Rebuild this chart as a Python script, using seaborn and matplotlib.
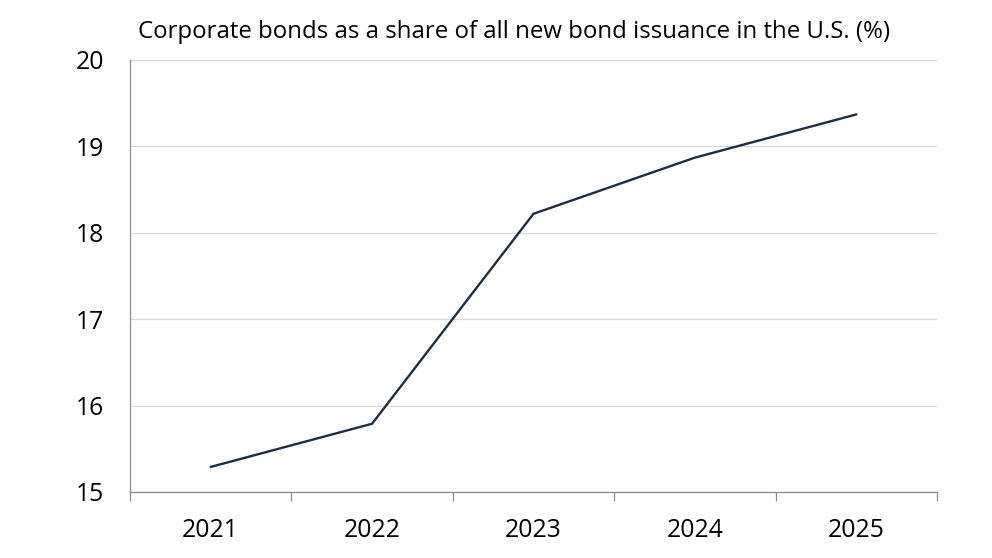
import matplotlib
matplotlib.use("Agg")
import matplotlib.pyplot as plt
import pandas as pd
import seaborn as sns
from matplotlib.ticker import FixedLocator

years = ["2021", "2022", "2023", "2024", "2025"]
share = [15.29, 15.79, 18.22, 18.87, 19.37]
title = "Corporate bonds as a share of all new bond issuance in the U.S. (%)"

df = pd.DataFrame({"Year": years, "Share": share})

sns.set_theme(style="white")
plt.rcParams["font.family"] = ["Open Sans", "DejaVu Sans"]

fig = plt.figure(figsize=(9.92, 5.58), dpi=100)
ax = fig.add_axes([0.131, 0.1183, 0.8136, 0.7742])

sns.lineplot(data=df, x="Year", y="Share", ax=ax, color="#1c2e45", linewidth=1.7, sort=False)

ax.set_xlim(-0.5, 4.5)
ax.set_ylim(15, 20)
ax.set_yticks([15, 16, 17, 18, 19, 20])
ax.yaxis.grid(True, color="#d9d9d9", linewidth=0.9)
ax.set_axisbelow(True)

ax.xaxis.set_minor_locator(FixedLocator([-0.5, 0.5, 1.5, 2.5, 3.5, 4.5]))
ax.tick_params(axis="x", which="major", length=0, pad=18.5, labelsize=17.8, colors="#000000")
ax.tick_params(axis="x", which="minor", length=6.5, width=0.9, color="#8c8c8c", bottom=True, direction="out")
ax.tick_params(axis="y", length=0, pad=18.5, labelsize=17.8, colors="#000000")

for side in ["top", "right"]:
    ax.spines[side].set_visible(False)
for side in ["left", "bottom"]:
    ax.spines[side].set_color("#8c8c8c")
    ax.spines[side].set_linewidth(0.9)

ax.set_xlabel("")
ax.set_ylabel("")
fig.text(0.139, 0.942, title, fontsize=17.3, color="#000000", ha="left", va="center")

plt.savefig("out.png", dpi=100)
plt.close()
